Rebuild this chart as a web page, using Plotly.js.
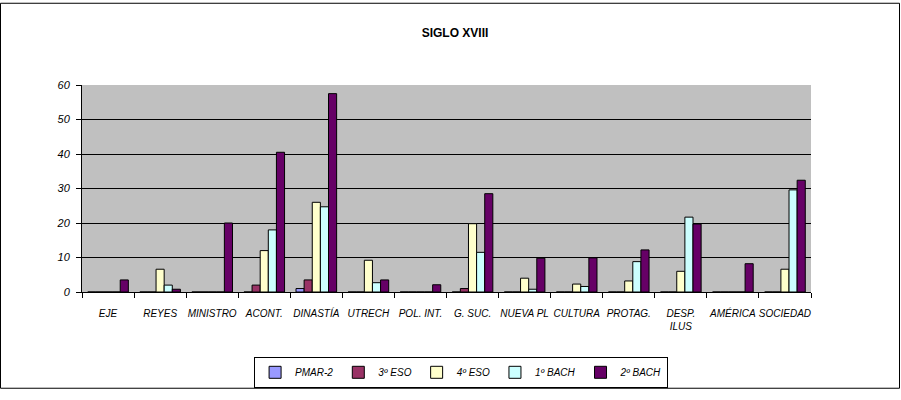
<!DOCTYPE html>
<html><head><meta charset="utf-8">
<script src="https://cdn.plot.ly/plotly-3.0.1.min.js"></script>
<style>html,body{margin:0;padding:0;background:#fff}#chart{width:901px;height:400px}</style>
</head><body><div id="chart"></div>
<script>
const categories = ["EJE","REYES","MINISTRO","ACONT.","DINASTÍA","UTRECH","POL. INT.","G. SUC.","NUEVA PL","CULTURA","PROTAG.","DESP.<br>ILUS","AMÉRICA","SOCIEDAD"];
const seriesNames = ["PMAR-2","3º ESO","4º ESO","1º BACH","2º BACH"];
const pmar2  = [0, 0, 0, 0,   1,   0,   0,   0,   0,   0,   0,   0,   0,   0];
const eso3   = [0, 0, 0, 2,   3.5, 0,   0,   1,   0,   0,   0,   0,   0,   0];
const eso4   = [0, 6.6, 0, 12, 26, 9.2, 0,  19.8, 4,  2.3, 3.2, 6,   0,   6.6];
const bach1  = [0, 2, 0, 18,  24.7, 2.7, 0, 11.5, 0.8, 1.6, 8.8, 21.7, 0,  29.6];
const bach2  = [3.5, 0.8, 20, 40.5, 57.5, 3.5, 2.1, 28.5, 9.8, 9.9, 12.2, 19.7, 8.2, 32.4];
const colors = ["#9999ff","#993366","#ffffcc","#ccffff","#660066"];
const yTicks = [0,10,20,30,40,50,60];

const FONT = "Liberation Sans, Arial, sans-serif";
const allSeries = [pmar2, eso3, eso4, bach1, bach2];
const traces = allSeries.map((vals, i) => ({
  type: "bar", name: seriesNames[i], x: categories, y: vals,
  marker: {color: colors[i], line: {color: "#000", width: 1}}
}));
const M = {l: 82, r: 90, t: 85, b: 101};
const W = 901, H = 400;
const pw = W - M.l - M.r, ph = H - M.t - M.b;
const layout = {
  width: W, height: H, margin: M,
  paper_bgcolor: "#fff", plot_bgcolor: "#c0c0c0",
  font: {family: FONT, size: 10, color: "#000"},
  title: {text: "<b>SIGLO XVIII</b>", font: {family: FONT, size: 12, color: "#000"}, x: 0.505, xanchor: "center", y: 1 - 33/H, yanchor: "middle"},
  barmode: "group", bargap: 0.22, bargroupgap: 0,
  xaxis: {type: "category", showline: true, linecolor: "#000", linewidth: 1, ticks: "outside", tickson: "boundaries", ticklen: 5, tickcolor: "#000",
          tickangle: 0, ticklabelstandoff: 12, tickfont: {family: FONT, size: 10, style: "italic"}, showgrid: false},
  yaxis: {range: [0, 60], tickvals: yTicks, ticktext: yTicks.map(String), showline: true, linecolor: "#000", ticks: "outside", ticklen: 5, tickcolor: "#000",
          ticklabelstandoff: 4, gridcolor: "#000", gridwidth: 1, zeroline: false, tickfont: {family: FONT, size: 11, style: "italic"}},
  showlegend: true,
  legend: {orientation: "h", x: 0.52, xanchor: "center", y: (ph - (366 - M.t)) / ph, yanchor: "top",
           bordercolor: "#000", borderwidth: 1, bgcolor: "#fff", font: {family: FONT, size: 10, style: "italic"},
           itemwidth: 30, tracegroupgap: 0},
  shapes: [{type: "rect", xref: "paper", yref: "paper",
            x0: -(M.l - 0.5) / pw, x1: 1 + (M.r - 1.5) / pw, y0: -(M.b - 1.5) / ph, y1: 1 + (M.t - 0.5) / ph,
            line: {color: "#000", width: 1}, fillcolor: "rgba(0,0,0,0)", layer: "above"}]
};
Plotly.newPlot("chart", traces, layout, {displayModeBar: false, staticPlot: true});
</script></body></html>
